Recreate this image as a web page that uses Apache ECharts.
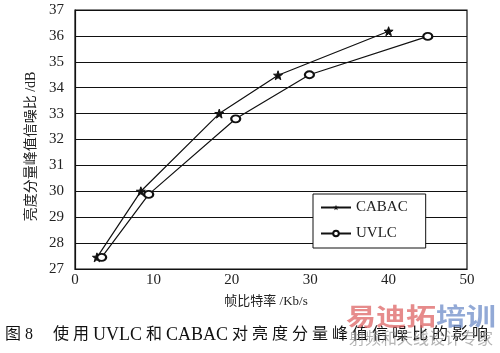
<!DOCTYPE html>
<html>
<head>
<meta charset="utf-8">
<script src="https://cdn.jsdelivr.net/npm/echarts@6/dist/echarts.min.js"></script>
<style>html,body{margin:0;padding:0;background:#fff;}#c{width:500px;height:353px;}</style>
</head>
<body>
<div id="c"></div>
<script>
var seriesNames = ['CABAC', 'UVLC'];
var cabacRate = [2.8, 8.4, 18.4, 25.9, 40.0];
var cabacPsnr = [27.45, 30.0, 33.0, 34.48, 36.18];
var uvlcRate = [3.4, 9.4, 20.5, 29.9, 45.0];
var uvlcPsnr = [27.45, 29.88, 32.8, 34.5, 35.98];
var xTicks = [0, 10, 20, 30, 40, 50];
var yTicks = [27, 28, 29, 30, 31, 32, 33, 34, 35, 36, 37];
var xTitle = '帧比特率 /Kb/s';
var yTitle = '亮度分量峰值信噪比 /dB';
var caption = '图 8\u3000 使用 UVLC 和 CABAC 对亮度分量峰值信噪比的影响';
var watermarkRed = '易迪拓';
var watermarkBlue = '培训';
var watermarkSub = '射频和天线设计专家';

function pairs(xs, ys) { return xs.map(function (x, i) { return [x, ys[i]]; }); }
// spread consecutive CJK characters like the printed caption, Latin runs in a larger face
function richCaption(s) {
  var cjk = /[\u3400-\u9fff]/;
  var spaced = '';
  for (var i = 0; i < s.length; i++) {
    spaced += s[i];
    if (i + 1 < s.length && cjk.test(s[i]) && cjk.test(s[i + 1])) spaced += '\u2005';
  }
  return spaced.replace(/([A-Za-z]+)|([^A-Za-z]+)/g, function (m, lat, oth) {
    return lat ? '{l|' + lat + '}' : '{c|' + oth + '}';
  });
}
var star = 'path://M0,-10 L2.35,-3.24 L9.51,-3.09 L3.8,1.24 L5.88,8.09 L0,4 L-5.88,8.09 L-3.8,1.24 L-9.51,-3.09 L-2.35,-3.24 Z';
var serif = '"Liberation Serif", "Noto Sans CJK SC", serif';

var chart = echarts.init(document.getElementById('c'));
chart.setOption({
  animation: false,
  backgroundColor: '#fff',
  grid: { left: 75, right: 33, top: 10, bottom: 84, show: true, borderColor: '#111', borderWidth: 1.2 },
  xAxis: {
    type: 'value', min: xTicks[0], max: xTicks[xTicks.length - 1], interval: 10,
    name: xTitle, nameLocation: 'middle', nameGap: 26,
    nameTextStyle: { fontFamily: serif, fontSize: 13, color: '#222', padding: [0, 10, 0, 0] },
    axisLine: { show: true, lineStyle: { color: '#111', width: 1.2 } },
    axisTick: { show: false },
    axisLabel: { fontFamily: serif, fontSize: 15, color: '#222', margin: 4 },
    splitLine: { show: false }
  },
  yAxis: {
    type: 'value', min: yTicks[0], max: yTicks[yTicks.length - 1], interval: 1,
    name: yTitle, nameLocation: 'middle', nameGap: 34, nameRotate: 90,
    nameTextStyle: { fontFamily: serif, fontSize: 14, color: '#222', padding: [0, 14, 0, 0] },
    axisLine: { show: true, lineStyle: { color: '#111', width: 1.2 } },
    axisTick: { show: false },
    axisLabel: { fontFamily: serif, fontSize: 15, color: '#222', margin: 11 },
    splitLine: { show: true, lineStyle: { color: '#111', width: 1.2 } }
  },
  legend: {
    left: 313, top: 194,
    orient: 'vertical', itemGap: 11, itemWidth: 30, itemHeight: 7,
    padding: [6, 18, 7, 7],
    borderColor: '#111', borderWidth: 1, backgroundColor: '#fff',
    textStyle: { fontFamily: serif, fontSize: 15, color: '#222' },
    data: seriesNames
  },
  series: [
    {
      name: seriesNames[0], type: 'line', data: pairs(cabacRate, cabacPsnr),
      symbol: star, symbolSize: 9,
      lineStyle: { color: '#111', width: 1.2 },
      itemStyle: { color: '#111', borderColor: '#111' }
    },
    {
      name: seriesNames[1], type: 'line', data: pairs(uvlcRate, uvlcPsnr),
      symbol: 'emptyCircle', symbolSize: [9, 7],
      lineStyle: { color: '#111', width: 1.2 },
      itemStyle: { color: '#111', borderColor: '#111', borderWidth: 1.2 }
    }
  ],
  graphic: [
    { type: 'text', x: 5, y: 335, style: {
      text: richCaption(caption), verticalAlign: 'middle',
      rich: {
        c: { fontFamily: serif, fontSize: 16, fill: '#111', verticalAlign: 'middle' },
        l: { fontFamily: serif, fontSize: 18, fill: '#111', verticalAlign: 'middle' }
      } } },
    { type: 'text', x: 346, y: 304, scaleY: 0.8, z: 10, style: { text: watermarkRed, fontFamily: '"Noto Sans CJK SC"', fontWeight: 'bold', fontSize: 30, fill: 'rgba(222,100,100,0.75)', verticalAlign: 'top' } },
    { type: 'text', x: 436, y: 304, scaleY: 0.8, z: 10, style: { text: watermarkBlue, fontFamily: '"Noto Sans CJK SC"', fontWeight: 'bold', fontSize: 30, fill: 'rgba(110,140,200,0.75)', verticalAlign: 'top' } },
    { type: 'text', x: 349, y: 330, z: 11, style: { text: watermarkSub, fontFamily: '"Noto Sans CJK SC"', fontSize: 16, fill: 'rgba(130,130,130,0.6)', verticalAlign: 'top' } }
  ]
});
</script>
</body>
</html>
